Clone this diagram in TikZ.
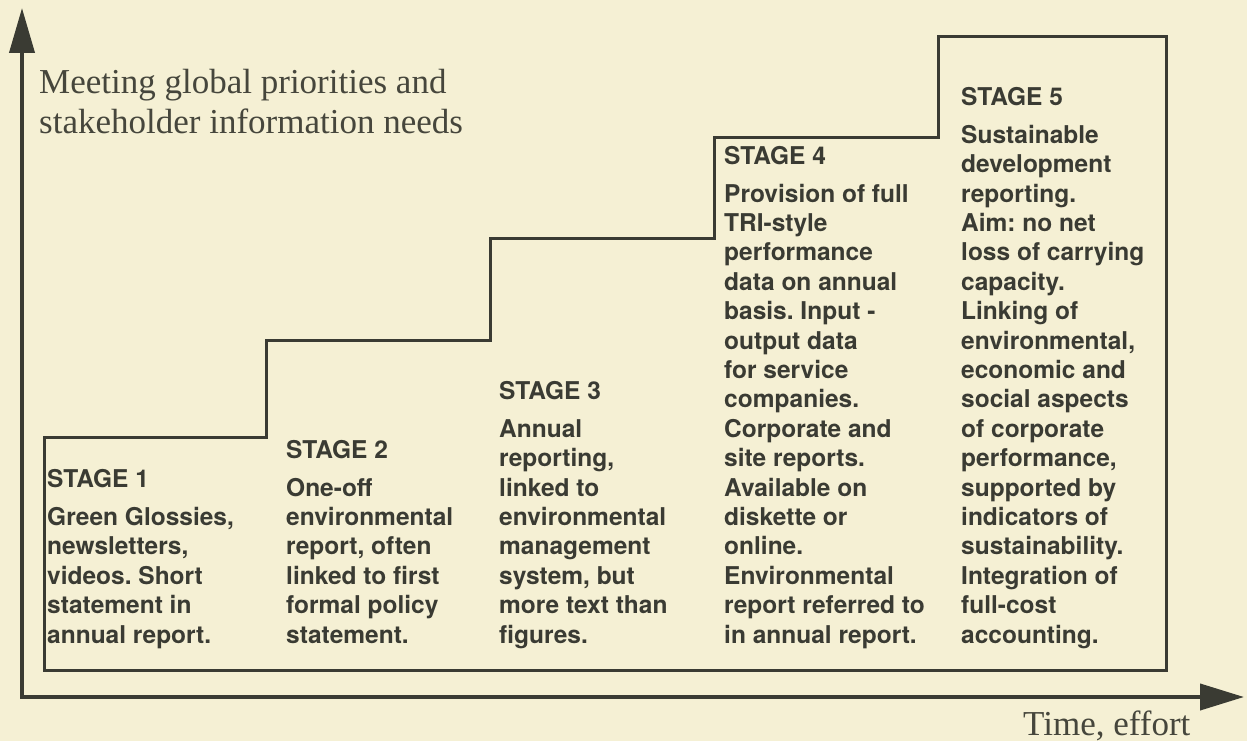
\documentclass[tikz,border=0pt]{standalone}
\usepackage{fontspec}
\setmainfont{Liberation Serif}
\newfontfamily\stagefont{TeX Gyre Heros}
\usetikzlibrary{arrows.meta}
\definecolor{paper}{RGB}{245,240,212}
\definecolor{ink}{RGB}{58,59,51}
\definecolor{printink}{RGB}{70,70,60}
\newcommand{\stagebox}[1]{\parbox[b]{260pt}{\raggedright\frenchspacing #1}}
\begin{document}
\begin{tikzpicture}[x=1pt,y=-1pt,
  stagetext/.style={anchor=base west, inner sep=0pt, text=ink,
    font=\stagefont\bfseries\fontsize{24.5}{29.4}\selectfont},
  axislabel/.style={anchor=base west, inner sep=0pt, text=printink,
    font=\fontsize{35}{40}\selectfont},
  axisline/.style={draw=ink, line width=4pt, line join=miter,
    {Triangle[length=45pt,width=25pt]}-{Triangle[length=44pt,width=26pt]}},
  stairs/.style={draw=ink, line width=3pt, line join=miter}]
% paper
\fill[paper] (0,0) rectangle (1247,741);
\useasboundingbox (0,0) rectangle (1247,741);

% axes
\coordinate (ytip) at (22,8);
\coordinate (origin) at (22,697);
\coordinate (xtip) at (1244,697);
\draw[axisline] (ytip) -- (origin) -- (xtip);

% staircase of the five stages
\draw[stairs] (44,670) -- (44,437) -- (266,437) -- (266,340) -- (490,340)
  -- (490,238) -- (714,238) -- (714,138) -- (938,138) -- (938,37)
  -- (1166,37) -- (1166,670) -- cycle;

% axis labels
\node[axislabel] (ylabel) at (39,94)
  {\parbox[t]{500pt}{\raggedright Meeting global priorities and\\stakeholder information needs}};
\node[axislabel] (xlabel) at (1023,735) {Time, effort};

% stage descriptions, all ending on the same baseline
\node[stagetext] (st1) at (47,643) {\stagebox{STAGE 1\\[8.6pt]
  Green Glossies,\\newsletters,\\videos. Short\\statement in\\annual report.}};
\node[stagetext] (st2) at (286,643) {\stagebox{STAGE 2\\[8.6pt]
  One-off\\environmental\\report, often\\linked to first\\formal policy\\statement.}};
\node[stagetext] (st3) at (499,643) {\stagebox{STAGE 3\\[8.6pt]
  Annual\\reporting,\\linked to\\environmental\\management\\system, but\\more text than\\figures.}};
\node[stagetext] (st4) at (724,643) {\stagebox{STAGE 4\\[8.6pt]
  Provision of full\\TRI-style\\performance\\data on annual\\basis. Input -\\output data\\for service\\companies.\\Corporate and\\site reports.\\Available on\\diskette or\\online.\\Environmental\\report referred to\\in annual report.}};
\node[stagetext] (st5) at (961,643) {\stagebox{STAGE 5\\[8.6pt]
  Sustainable\\development\\reporting.\\Aim: no net\\loss of carrying\\capacity.\\Linking of\\environmental,\\economic and\\social aspects\\of corporate\\performance,\\supported by\\indicators of\\sustainability.\\Integration of\\full-cost\\accounting.}};
\end{tikzpicture}
\end{document}
